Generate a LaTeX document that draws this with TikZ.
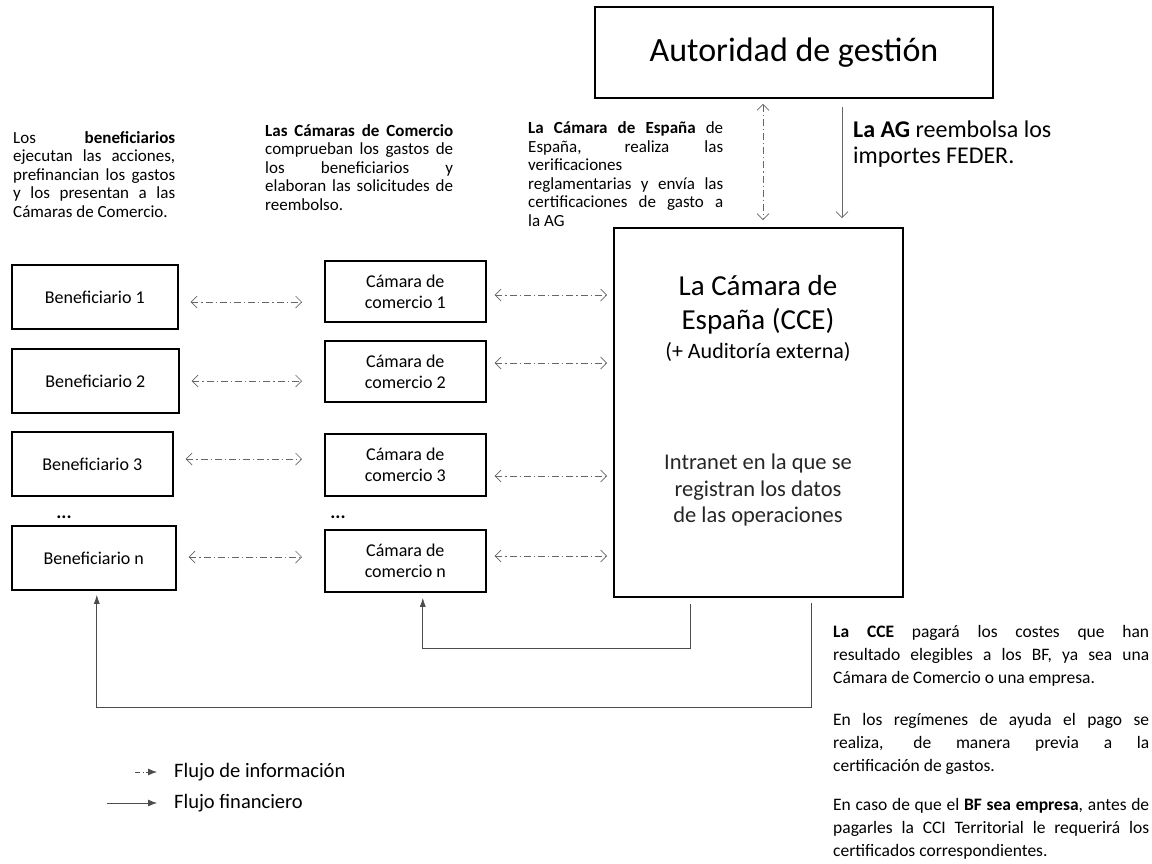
\documentclass[tikz,border=0pt]{standalone}
\usepackage{fontspec}
\setmainfont{Carlito}
\usetikzlibrary{arrows.meta}
\setlength{\parindent}{0pt}
\hyphenpenalty=10000
\exhyphenpenalty=10000

\tikzset{
  caja/.style={draw, line width=1.6pt, inner sep=0pt, align=center, font=\fontsize{18}{21}\selectfont},
  texto/.style={inner sep=0pt, anchor=north west, align=justify, font=\fontsize{17}{18.5}\selectfont},
  info/.style={draw=black!60, line width=0.7pt, dash pattern=on 7pt off 3pt on 1.2pt off 3pt,
    {Straight Barb[length=6pt,width=12pt]}-{Straight Barb[length=6pt,width=12pt]}},
  fin/.style={draw=black!60, line width=0.7pt, -{Straight Barb[length=6pt,width=12pt]}},
  pago/.style={draw=black!70, line width=0.8pt, -{Latex[length=9pt,width=6pt]}},
  leyenda/.style={anchor=west, inner sep=0pt, font=\fontsize{20.5}{24}\selectfont},
}

\begin{document}
\begin{tikzpicture}[x=1pt,y=-1pt]
  \useasboundingbox (0,0) rectangle (1152,863);

  % Autoridad de gestion y Camara de Espana
  \node[caja, minimum width=398pt, minimum height=91pt, font=\fontsize{34}{40}\selectfont] (ag) at (794,52.5) {Autoridad de gestión};
  \node[caja, minimum width=289pt, minimum height=369pt] (cce) at (758.5,412.5) {};
  \node[font=\fontsize{29}{34}\selectfont, align=center] (ccetit) at (758,305) {La Cámara de\\España (CCE)};
  \node[font=\fontsize{22}{26}\selectfont] (cceaud) at (758,352) {(+ Auditoría externa)};
  \node[font=\fontsize{22.5}{26.5}\selectfont, align=center, text=black!85] (cceint) at (758,490) {Intranet en la que se\\registran los datos\\de las operaciones};

  % Filas: beneficiarios y camaras de comercio
  \foreach \i/\yb/\wb/\yc/\hc/\db/\dc in {1/297/166/291.5/61/-5/-3.5, 2/381/167/371.5/61/0/8.5, 3/464/161/465/62/5/-11, n/558/164/561/62/1/5} {
    \node[caja, anchor=west, minimum width=\wb pt, minimum height=64pt] (b\i) at (11,\yb) {Beneficiario \i};
    \node[caja, anchor=west, minimum width=161pt, minimum height=\hc pt] (c\i) at (324,\yc) {Cámara de\\comercio \i};
    \coordinate (ib\i) at ([yshift=\db pt]b\i.east);
    \coordinate (ic\i) at ([yshift=\dc pt]c\i.east);
    \draw[info, shorten <=12pt, shorten >=22pt] (ib\i) -- (ib\i -| c\i.west);
    \draw[info, shorten <=8pt, shorten >=6pt] (ic\i) -- (ic\i -| cce.west);
  }
  \node[font=\bfseries\fontsize{19}{21}\selectfont] (puntosb) at (64,517) {...};
  \node[font=\bfseries\fontsize{19}{21}\selectfont] (puntosc) at (338,517) {...};

  % Flechas verticales AG - CCE
  \coordinate (agi) at ([xshift=-31pt]ag.south);
  \coordinate (agf) at ([xshift=48pt]ag.south);
  \draw[info, shorten <=5pt, shorten >=7pt] (agi) -- (agi |- cce.north);
  \draw[fin, shorten <=8pt, shorten >=9pt] (agf) -- (agf |- cce.north);

  % Pagos de la CCE
  \coordinate (sal1) at ([xshift=-68.5pt,yshift=-6pt]cce.south);
  \coordinate (sal2) at ([xshift=52.5pt,yshift=-5pt]cce.south);
  \draw[pago] (sal1) -- ++(0,45) -| ([xshift=17.5pt,yshift=-5pt]cn.south);
  \draw[pago] (sal2) -- ++(0,105) -| ([xshift=3pt,yshift=-4pt]bn.south);

  % Textos
  \node[texto, text width=162pt] (txtben) at (13,131) {Los \textbf{beneficiarios}\linebreak ejecutan las acciones,\linebreak prefinancian los gastos\linebreak y los presentan a las\linebreak Cámaras de Comercio.};
  \node[texto, text width=188pt] (txtcc) at (265,124) {\textbf{Las Cámaras de Comercio}\linebreak comprueban los gastos de\linebreak los beneficiarios y\linebreak elaboran las solicitudes de\linebreak reembolso.};
  \node[texto, text width=195pt] (txtcce) at (528,121.5) {\textbf{La Cámara de España} de\linebreak España, realiza las\linebreak verificaciones\hfill\linebreak reglamentarias y envía las\linebreak certificaciones de gasto a\linebreak la AG};
  \node[inner sep=0pt, anchor=north west, align=left, font=\fontsize{24}{26}\selectfont] (txtag) at (853,121) {\textbf{La AG} reembolsa los\\importes FEDER.};
  \node[texto, text width=316pt, font=\fontsize{17.5}{23}\selectfont] (txtpago1) at (833,625.5) {\textbf{La CCE} pagará los costes que han\linebreak resultado elegibles a los BF, ya sea una\linebreak Cámara de Comercio o una empresa.};
  \node[texto, text width=316pt, font=\fontsize{17.5}{23}\selectfont] (txtpago2) at (833,713) {En los regímenes de ayuda el pago se\linebreak realiza, de manera previa a la\linebreak certificación de gastos.};
  \node[texto, text width=316pt, font=\fontsize{17.5}{23}\selectfont] (txtpago3) at (833,798) {En caso de que el \textbf{BF sea empresa}, antes de\linebreak pagarles la CCI Territorial le requerirá los\linebreak certificados correspondientes.};

  % Leyenda
  \node[leyenda] (leginfo) at (174,772) {Flujo de información};
  \node[leyenda] (legfin) at (174,803) {Flujo financiero};
  \coordinate (legi) at (135,772);
  \coordinate (legf) at (107,803);
  \draw[draw=black!70, line width=0.8pt, dash pattern=on 5pt off 2.5pt on 1pt off 2.5pt, -{Latex[length=9pt,width=7pt]}] (legi) -- ([xshift=-17pt]leginfo.west);
  \draw[pago, -{Latex[length=9pt,width=7pt]}] (legf) -- ([xshift=-17pt]legfin.west);
\end{tikzpicture}
\end{document}
